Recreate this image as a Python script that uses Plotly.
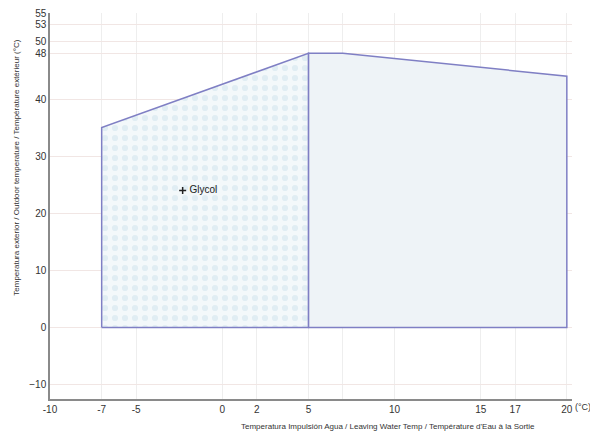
import plotly.graph_objects as go

# ─────────────────────────────────────────────────────────────
# DATA
# ─────────────────────────────────────────────────────────────
# glycol zone (left, patterned)
glycol_x = [-7, -7, 5, 5, -7]
glycol_y = [0, 35, 48, 0, 0]

# water zone (right)
water_x = [5, 5, 7, 20, 20, 5]
water_y = [0, 48, 48, 44, 0, 0]

label_x = [-2.3]
label_y = [24]
label_text = [" Glycol"]

x_tickvals = [-10, -7, -5, 0, 2, 5, 7, 10, 15, 17, 20]
x_ticktext = ["-10", "-7", "-5", "0", "2", "5", "", "10", "15", "17", "20"]
y_tickvals = [-10, 0, 10, 20, 30, 40, 48, 50, 53, 55]

LINE_COL = "#7f7fc4"
FONT = "Liberation Sans, Arial, sans-serif"

# ─────────────────────────────────────────────────────────────
# FIGURE
# (page body has an 8px margin, so the figure is a bit smaller
#  and its margins are shifted to line up with the window)
# ─────────────────────────────────────────────────────────────
fig = go.Figure()

fig.add_trace(go.Scatter(
    x=water_x, y=water_y,
    mode="lines",
    fill="toself",
    fillcolor="#eef3f7",
    line=dict(color=LINE_COL, width=1.5),
    hoverinfo="skip",
    showlegend=False
))

fig.add_trace(go.Scatter(
    x=glycol_x, y=glycol_y,
    mode="lines",
    fill="toself",
    fillcolor="#f2f7fa",
    fillpattern=dict(shape=".", size=10, solidity=0.3,
                     fgcolor="#cde2eb", bgcolor="#f3f8fa"),
    line=dict(color=LINE_COL, width=1.5),
    hoverinfo="skip",
    showlegend=False
))

fig.add_trace(go.Scatter(
    x=label_x, y=label_y,
    mode="markers+text",
    marker=dict(symbol="cross-thin", size=5, line=dict(color="#222", width=1.5)),
    text=label_text,
    textposition="middle right",
    textfont=dict(size=10, color="#222", family=FONT),
    showlegend=False
))

fig.update_layout(
    width=590,
    height=433,
    margin=dict(l=42, r=26, t=5, b=42),
    paper_bgcolor="white",
    plot_bgcolor="white",
    font=dict(family=FONT, size=10, color="#333"),
    xaxis=dict(
        range=[-10, 20.3],
        tickmode="array",
        tickvals=x_tickvals,
        ticktext=x_ticktext,
        showgrid=True,
        gridcolor="#eeeeee",
        gridwidth=1,
        zeroline=False,
        showline=True,
        linecolor="#8a8a8a",
        linewidth=1.5,
        ticks="",
        automargin=False,
        tickfont=dict(size=10, color="#333"),
    ),
    yaxis=dict(
        range=[-12.5, 55.05],
        tickmode="array",
        tickvals=y_tickvals,
        showgrid=True,
        gridcolor="#f1e6e4",
        gridwidth=1,
        zeroline=False,
        showline=True,
        linecolor="#8a8a8a",
        linewidth=1.5,
        ticks="",
        automargin=False,
        ticklabeloverflow="allow",
        tickfont=dict(size=10, color="#333"),
    ),
    annotations=[
        dict(
            text="Temperatura exterior / Outdoor temperature / Température extérieur (°C)",
            xref="paper", yref="paper",
            x=-0.077, y=0.6,
            textangle=-90,
            showarrow=False,
            font=dict(size=8, color="#333"),
        ),
        dict(
            text="Temperatura Impulsión Agua / Leaving Water Temp / Température d'Eau à la Sortie",
            xref="paper", yref="paper",
            x=0.648, y=-0.087,
            showarrow=False,
            font=dict(size=8, color="#333"),
        ),
        dict(
            text="(°C)",
            xref="paper", yref="paper",
            x=1.0, y=-0.04,
            xanchor="left",
            xshift=1,
            showarrow=False,
            font=dict(size=9, color="#333"),
        ),
    ],
)

fig.write_html("out.html")
